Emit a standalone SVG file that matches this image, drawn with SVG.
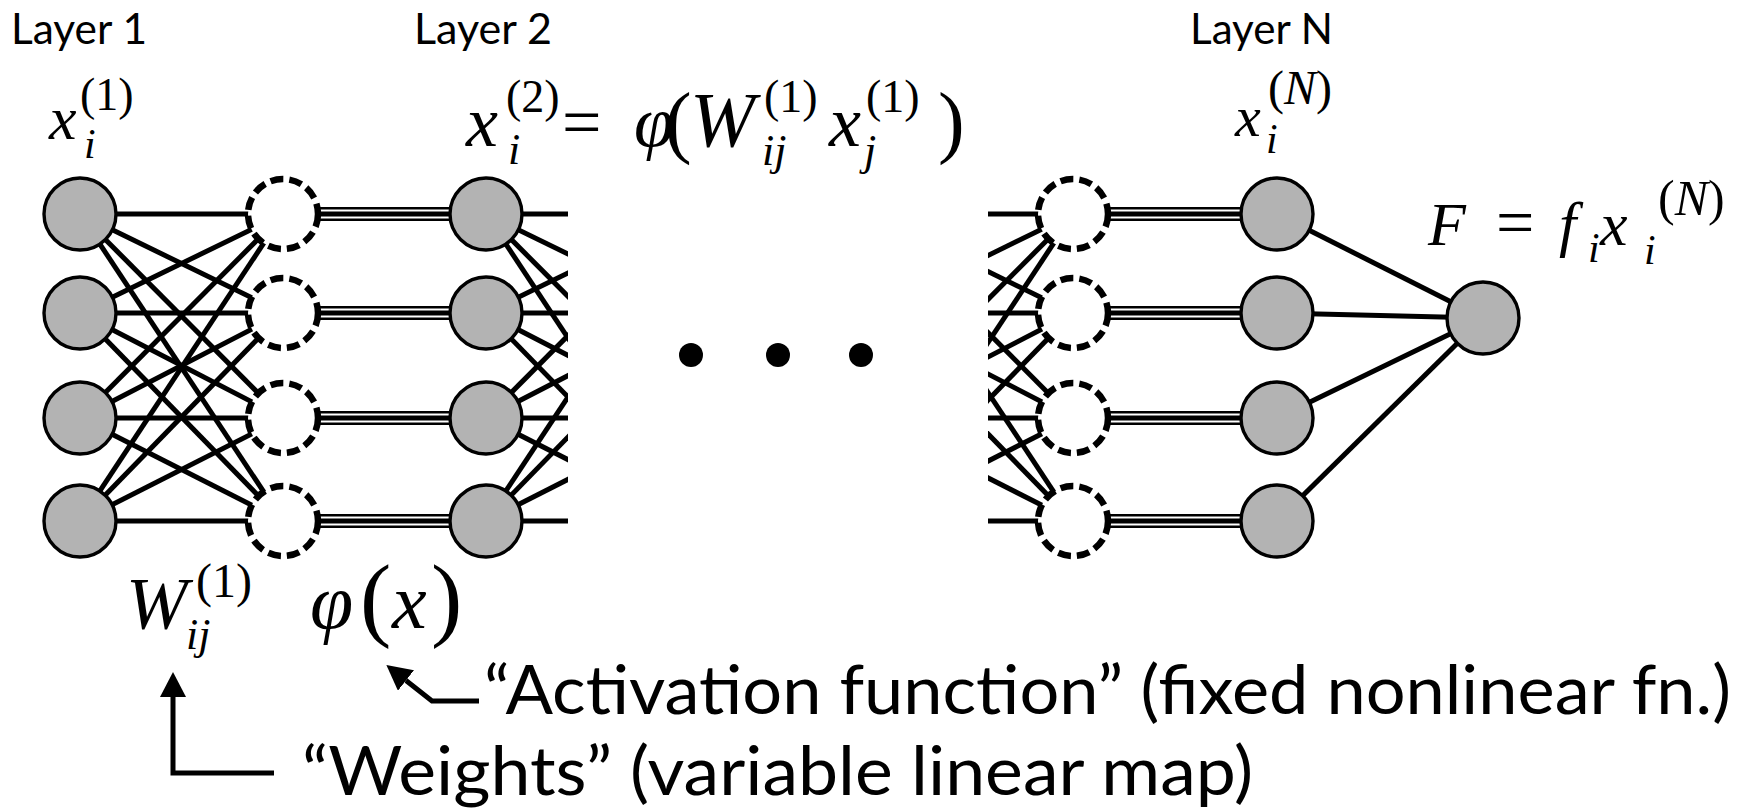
<svg xmlns="http://www.w3.org/2000/svg" width="1742" height="810" viewBox="0 0 1742 810">
<style>
.lbl{font-family:Lato,"Liberation Sans",sans-serif;fill:#000}
.m{font-family:"Liberation Serif",serif;fill:#000}
.it{font-style:italic}
.c line{stroke:#000;stroke-width:5;stroke-linecap:butt}
circle.n{fill:#b3b3b3;stroke:#000;stroke-width:3.4}
circle.d{fill:#fff;stroke:#000;stroke-width:6.5;stroke-dasharray:13 6}
.c line.t1{stroke:#000;stroke-width:14}
.c line.t2{stroke:#fff;stroke-width:9}
.c line.t3{stroke:#000;stroke-width:5}
.arr{fill:none;stroke:#000;stroke-width:5}
</style>
<defs>
<clipPath id="clipB"><rect x="0" y="0" width="568" height="810"/></clipPath>
<clipPath id="clipC"><rect x="988" y="0" width="754" height="810"/></clipPath>
<marker id="ah" markerUnits="userSpaceOnUse" markerWidth="26" markerHeight="26" refX="0" refY="13" orient="auto" viewBox="0 0 26 26"><path d="M0,0 L25,13 L0,26 z" fill="#000"/></marker>
</defs>

<g id="connectors" class="c">
<g id="w1">
<line x1="80" y1="214" x2="283" y2="214"/><line x1="80" y1="214" x2="283" y2="313"/><line x1="80" y1="214" x2="283" y2="418"/><line x1="80" y1="214" x2="283" y2="521"/>
<line x1="80" y1="313" x2="283" y2="214"/><line x1="80" y1="313" x2="283" y2="313"/><line x1="80" y1="313" x2="283" y2="418"/><line x1="80" y1="313" x2="283" y2="521"/>
<line x1="80" y1="418" x2="283" y2="214"/><line x1="80" y1="418" x2="283" y2="313"/><line x1="80" y1="418" x2="283" y2="418"/><line x1="80" y1="418" x2="283" y2="521"/>
<line x1="80" y1="521" x2="283" y2="214"/><line x1="80" y1="521" x2="283" y2="313"/><line x1="80" y1="521" x2="283" y2="418"/><line x1="80" y1="521" x2="283" y2="521"/>
</g>
<g id="w2" clip-path="url(#clipB)">
<line x1="486" y1="214" x2="689" y2="214"/><line x1="486" y1="214" x2="689" y2="313"/><line x1="486" y1="214" x2="689" y2="418"/><line x1="486" y1="214" x2="689" y2="521"/>
<line x1="486" y1="313" x2="689" y2="214"/><line x1="486" y1="313" x2="689" y2="313"/><line x1="486" y1="313" x2="689" y2="418"/><line x1="486" y1="313" x2="689" y2="521"/>
<line x1="486" y1="418" x2="689" y2="214"/><line x1="486" y1="418" x2="689" y2="313"/><line x1="486" y1="418" x2="689" y2="418"/><line x1="486" y1="418" x2="689" y2="521"/>
<line x1="486" y1="521" x2="689" y2="214"/><line x1="486" y1="521" x2="689" y2="313"/><line x1="486" y1="521" x2="689" y2="418"/><line x1="486" y1="521" x2="689" y2="521"/>
</g>
<g id="wN" clip-path="url(#clipC)">
<line x1="870" y1="214" x2="1073" y2="214"/><line x1="870" y1="214" x2="1073" y2="313"/><line x1="870" y1="214" x2="1073" y2="418"/><line x1="870" y1="214" x2="1073" y2="521"/>
<line x1="870" y1="313" x2="1073" y2="214"/><line x1="870" y1="313" x2="1073" y2="313"/><line x1="870" y1="313" x2="1073" y2="418"/><line x1="870" y1="313" x2="1073" y2="521"/>
<line x1="870" y1="418" x2="1073" y2="214"/><line x1="870" y1="418" x2="1073" y2="313"/><line x1="870" y1="418" x2="1073" y2="418"/><line x1="870" y1="418" x2="1073" y2="521"/>
<line x1="870" y1="521" x2="1073" y2="214"/><line x1="870" y1="521" x2="1073" y2="313"/><line x1="870" y1="521" x2="1073" y2="418"/><line x1="870" y1="521" x2="1073" y2="521"/>
</g>
<g id="act1">
<line class="t1" x1="283" y1="214" x2="486" y2="214"/><line class="t2" x1="283" y1="214" x2="486" y2="214"/><line class="t3" x1="283" y1="214" x2="486" y2="214"/>
<line class="t1" x1="283" y1="313" x2="486" y2="313"/><line class="t2" x1="283" y1="313" x2="486" y2="313"/><line class="t3" x1="283" y1="313" x2="486" y2="313"/>
<line class="t1" x1="283" y1="418" x2="486" y2="418"/><line class="t2" x1="283" y1="418" x2="486" y2="418"/><line class="t3" x1="283" y1="418" x2="486" y2="418"/>
<line class="t1" x1="283" y1="521" x2="486" y2="521"/><line class="t2" x1="283" y1="521" x2="486" y2="521"/><line class="t3" x1="283" y1="521" x2="486" y2="521"/>
</g>
<g id="actN">
<line class="t1" x1="1073" y1="214" x2="1277" y2="214"/><line class="t2" x1="1073" y1="214" x2="1277" y2="214"/><line class="t3" x1="1073" y1="214" x2="1277" y2="214"/>
<line class="t1" x1="1073" y1="313" x2="1277" y2="313"/><line class="t2" x1="1073" y1="313" x2="1277" y2="313"/><line class="t3" x1="1073" y1="313" x2="1277" y2="313"/>
<line class="t1" x1="1073" y1="418" x2="1277" y2="418"/><line class="t2" x1="1073" y1="418" x2="1277" y2="418"/><line class="t3" x1="1073" y1="418" x2="1277" y2="418"/>
<line class="t1" x1="1073" y1="521" x2="1277" y2="521"/><line class="t2" x1="1073" y1="521" x2="1277" y2="521"/><line class="t3" x1="1073" y1="521" x2="1277" y2="521"/>
</g>
<g id="out">
<line x1="1277" y1="214" x2="1483" y2="318"/><line x1="1277" y1="313" x2="1483" y2="318"/><line x1="1277" y1="418" x2="1483" y2="318"/><line x1="1277" y1="521" x2="1483" y2="318"/>
</g>
<path class="arr" d="M274,773 H173 V697" marker-end="url(#ah)"/>
<path class="arr" d="M479,701 H432 L406,680.5" marker-end="url(#ah)"/>
</g>

<g id="layer1">
<circle id="n1_1" class="n" cx="80" cy="214" r="36"/>
<circle id="n1_2" class="n" cx="80" cy="313" r="36"/>
<circle id="n1_3" class="n" cx="80" cy="418" r="36"/>
<circle id="n1_4" class="n" cx="80" cy="521" r="36"/>
</g>
<g id="act-left">
<circle id="a1_1" class="d" cx="283" cy="214" r="35"/>
<circle id="a1_2" class="d" cx="283" cy="313" r="35"/>
<circle id="a1_3" class="d" cx="283" cy="418" r="35"/>
<circle id="a1_4" class="d" cx="283" cy="521" r="35"/>
</g>
<g id="layer2">
<circle id="n2_1" class="n" cx="486" cy="214" r="36"/>
<circle id="n2_2" class="n" cx="486" cy="313" r="36"/>
<circle id="n2_3" class="n" cx="486" cy="418" r="36"/>
<circle id="n2_4" class="n" cx="486" cy="521" r="36"/>
</g>
<g id="ellipsis">
<circle cx="691" cy="355" r="12"/>
<circle cx="778" cy="355" r="12"/>
<circle cx="861" cy="355" r="12"/>
</g>
<g id="act-right">
<circle id="aN_1" class="d" cx="1073" cy="214" r="35"/>
<circle id="aN_2" class="d" cx="1073" cy="313" r="35"/>
<circle id="aN_3" class="d" cx="1073" cy="418" r="35"/>
<circle id="aN_4" class="d" cx="1073" cy="521" r="35"/>
</g>
<g id="layerN">
<circle id="nN_1" class="n" cx="1277" cy="214" r="36"/>
<circle id="nN_2" class="n" cx="1277" cy="313" r="36"/>
<circle id="nN_3" class="n" cx="1277" cy="418" r="36"/>
<circle id="nN_4" class="n" cx="1277" cy="521" r="36"/>
</g>
<g id="output">
<circle id="nF" class="n" cx="1483" cy="318" r="36"/>
</g>

<g id="labels">
<text class="lbl" x="11" y="44" font-size="43" textLength="136" lengthAdjust="spacingAndGlyphs">Layer 1</text>
<text class="lbl" x="414" y="44" font-size="43" textLength="138" lengthAdjust="spacingAndGlyphs">Layer 2</text>
<text class="lbl" x="1190" y="44" font-size="43" textLength="143" lengthAdjust="spacingAndGlyphs">Layer N</text>

<text id="f1" class="m"><tspan class="it" x="49" y="139" font-size="62">x</tspan><tspan x="80" y="110" font-size="46">(1)</tspan><tspan class="it" x="84" y="158" font-size="42">i</tspan></text>

<text id="f2" class="m"><tspan class="it" x="466" y="146" font-size="72">x</tspan><tspan x="506" y="112" font-size="46">(2)</tspan><tspan class="it" x="508" y="164" font-size="44">i</tspan><tspan x="562" y="146" font-size="70">=</tspan><tspan class="it" x="634" y="146" font-size="72">φ</tspan><tspan x="665" y="148" font-size="80">(</tspan><tspan class="it" x="690" y="146" font-size="78">W</tspan><tspan x="764" y="112" font-size="46">(1)</tspan><tspan class="it" x="762" y="165" font-size="44">ij</tspan><tspan class="it" x="829" y="146" font-size="72">x</tspan><tspan x="866" y="112" font-size="46">(1)</tspan><tspan class="it" x="864" y="165" font-size="44">j</tspan><tspan x="938" y="148" font-size="80">)</tspan></text>

<text id="fN" class="m"><tspan class="it" x="1235" y="136" font-size="58">x</tspan><tspan x="1268" y="104" font-size="48">(</tspan><tspan class="it" font-size="48">N</tspan><tspan font-size="48">)</tspan><tspan class="it" x="1266" y="153" font-size="42">i</tspan></text>

<text id="fF" class="m"><tspan class="it" x="1428" y="245" font-size="62">F</tspan><tspan x="1496" y="245" font-size="68">=</tspan><tspan class="it" x="1559" y="245" font-size="62">f</tspan><tspan class="it" x="1588" y="262" font-size="42">i</tspan><tspan class="it" x="1600" y="245" font-size="62">x</tspan><tspan class="it" x="1644" y="264" font-size="42">i</tspan><tspan x="1658" y="215" font-size="50">(</tspan><tspan class="it" font-size="50">N</tspan><tspan font-size="50">)</tspan></text>

<text id="fW" class="m"><tspan class="it" x="126" y="629" font-size="74">W</tspan><tspan x="196" y="597" font-size="48">(1)</tspan><tspan class="it" x="186" y="649" font-size="44">ij</tspan></text>

<text id="fphi" class="m"><tspan class="it" x="310" y="628" font-size="78">φ</tspan><tspan x="360" y="629" font-size="94">(</tspan><tspan class="it" x="392" y="628" font-size="78">x</tspan><tspan x="431" y="629" font-size="94">)</tspan></text>

<text class="lbl" x="484" y="714" font-size="67" textLength="1247" lengthAdjust="spacingAndGlyphs">“Activation function” (fixed nonlinear fn.)</text>
<text class="lbl" x="302" y="795" font-size="67" textLength="951" lengthAdjust="spacingAndGlyphs">“Weights” (variable linear map)</text>
</g>
</svg>
